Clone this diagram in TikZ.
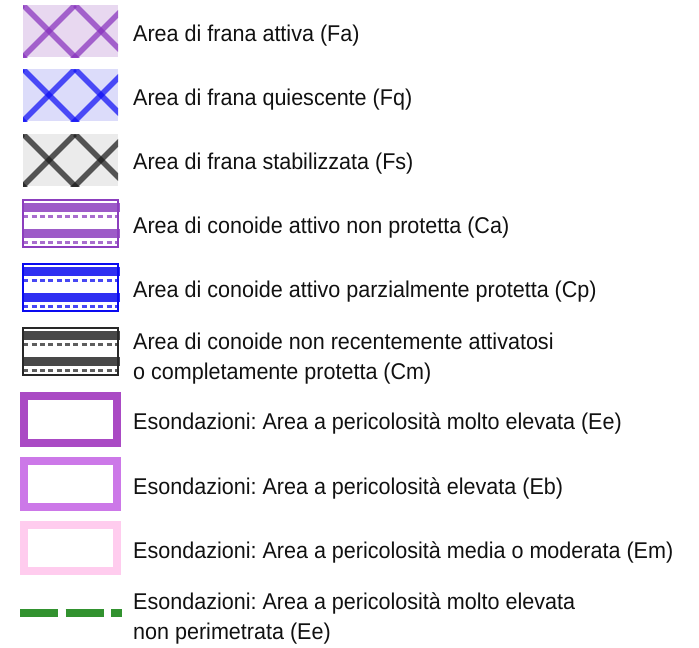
\documentclass[tikz,border=0pt]{standalone}
\usepackage{fontspec}
\setmainfont{Liberation Sans}[FakeStretch=0.945]
\frenchspacing
\definecolor{fapurple}{RGB}{135,50,190}
\definecolor{fafill}{RGB}{232,216,240}
\definecolor{fqblue}{RGB}{15,15,245}
\definecolor{fqfill}{RGB}{220,220,250}
\definecolor{fsgray}{RGB}{25,25,25}
\definecolor{fsfill}{RGB}{235,235,235}
\definecolor{capurple}{RGB}{140,62,190}
\definecolor{cpblue}{RGB}{10,10,240}
\definecolor{cmgray}{RGB}{40,40,40}
\definecolor{eecol}{RGB}{170,74,196}
\definecolor{ebcol}{RGB}{204,120,232}
\definecolor{emcol}{RGB}{255,204,238}
\definecolor{greencol}{RGB}{50,146,47}
\definecolor{txt}{RGB}{17,17,17}
\newcommand\mylandslide[3]{%
  \begin{scope}
    \clip (23,#1) rectangle (118,#1+52);
    \fill[#2] (23,#1) rectangle (118,#1+52);
    \foreach \a in {-29,23,75,127}{
      \draw[hatchline,#3] (\a,#1) -- ++(60,60);
      \draw[hatchline,#3] (\a,#1) -- ++(-60,60);
    }
  \end{scope}}
\newcommand\myconoid[2]{%
  \fill[#2, opacity=0.85] (23,#1+4) rectangle (119.5,#1+12.5);
  \fill[#2, opacity=0.85] (23,#1+30) rectangle (119.5,#1+38.5);
  \draw[#2, opacity=0.75, line width=3, dash pattern=on 5 off 3.33] (23.3,#1+17.5) -- (118,#1+17.5);
  \draw[#2, opacity=0.75, line width=3, dash pattern=on 5 off 3.33] (23.3,#1+43.5) -- (118,#1+43.5);
  \draw[#2, line width=2] (23.3,#1+1) rectangle (117.7,#1+48);}
\begin{document}
\begin{tikzpicture}[x=1pt,y=-1pt,
  hatchline/.style={line width=5.5, opacity=0.72},
  lbl/.style={anchor=base west, inner sep=0pt, text=txt, font=\fontsize{22.8}{27}\selectfont},
  framebox/.style={line width=8}]
\useasboundingbox (0,0) rectangle (699,648);
% landslide symbols
\mylandslide{5}{fafill}{fapurple}
\mylandslide{69}{fqfill}{fqblue}
\mylandslide{134}{fsfill}{fsgray}
% conoid symbols
\myconoid{199}{capurple}
\myconoid{263}{cpblue}
\myconoid{327}{cmgray}
% flood symbols
\draw[framebox, eecol] (24,396) rectangle (117,443);
\draw[framebox, ebcol] (24,461) rectangle (117,507);
\draw[framebox, emcol] (24,525) rectangle (117,571);
\draw[greencol, line width=8, dash pattern=on 38 off 7.5] (20,613) -- (122,613);
% labels
\node[lbl] (t1) at (133,41) {Area di frana attiva (Fa)};
\node[lbl] (t2) at (133,105) {Area di frana quiescente (Fq)};
\node[lbl] (t3) at (133,169) {Area di frana stabilizzata (Fs)};
\node[lbl] (t4) at (133,233) {Area di conoide attivo non protetta (Ca)};
\node[lbl] (t5) at (133,297) {Area di conoide attivo parzialmente protetta (Cp)};
\node[lbl] (t6a) at (133,349) {Area di conoide non recentemente attivatosi};
\node[lbl] (t6b) at (133,379) {o completamente protetta (Cm)};
\node[lbl] (t7) at (133,429) {Esondazioni: Area a pericolosità molto elevata (Ee)};
\node[lbl] (t8) at (133,494) {Esondazioni: Area a pericolosità elevata (Eb)};
\node[lbl] (t9) at (133,558) {Esondazioni: Area a pericolosità media o moderata (Em)};
\node[lbl] (t10a) at (133,609) {Esondazioni: Area a pericolosità molto elevata};
\node[lbl] (t10b) at (133,639) {non perimetrata (Ee)};
\end{tikzpicture}
\end{document}
